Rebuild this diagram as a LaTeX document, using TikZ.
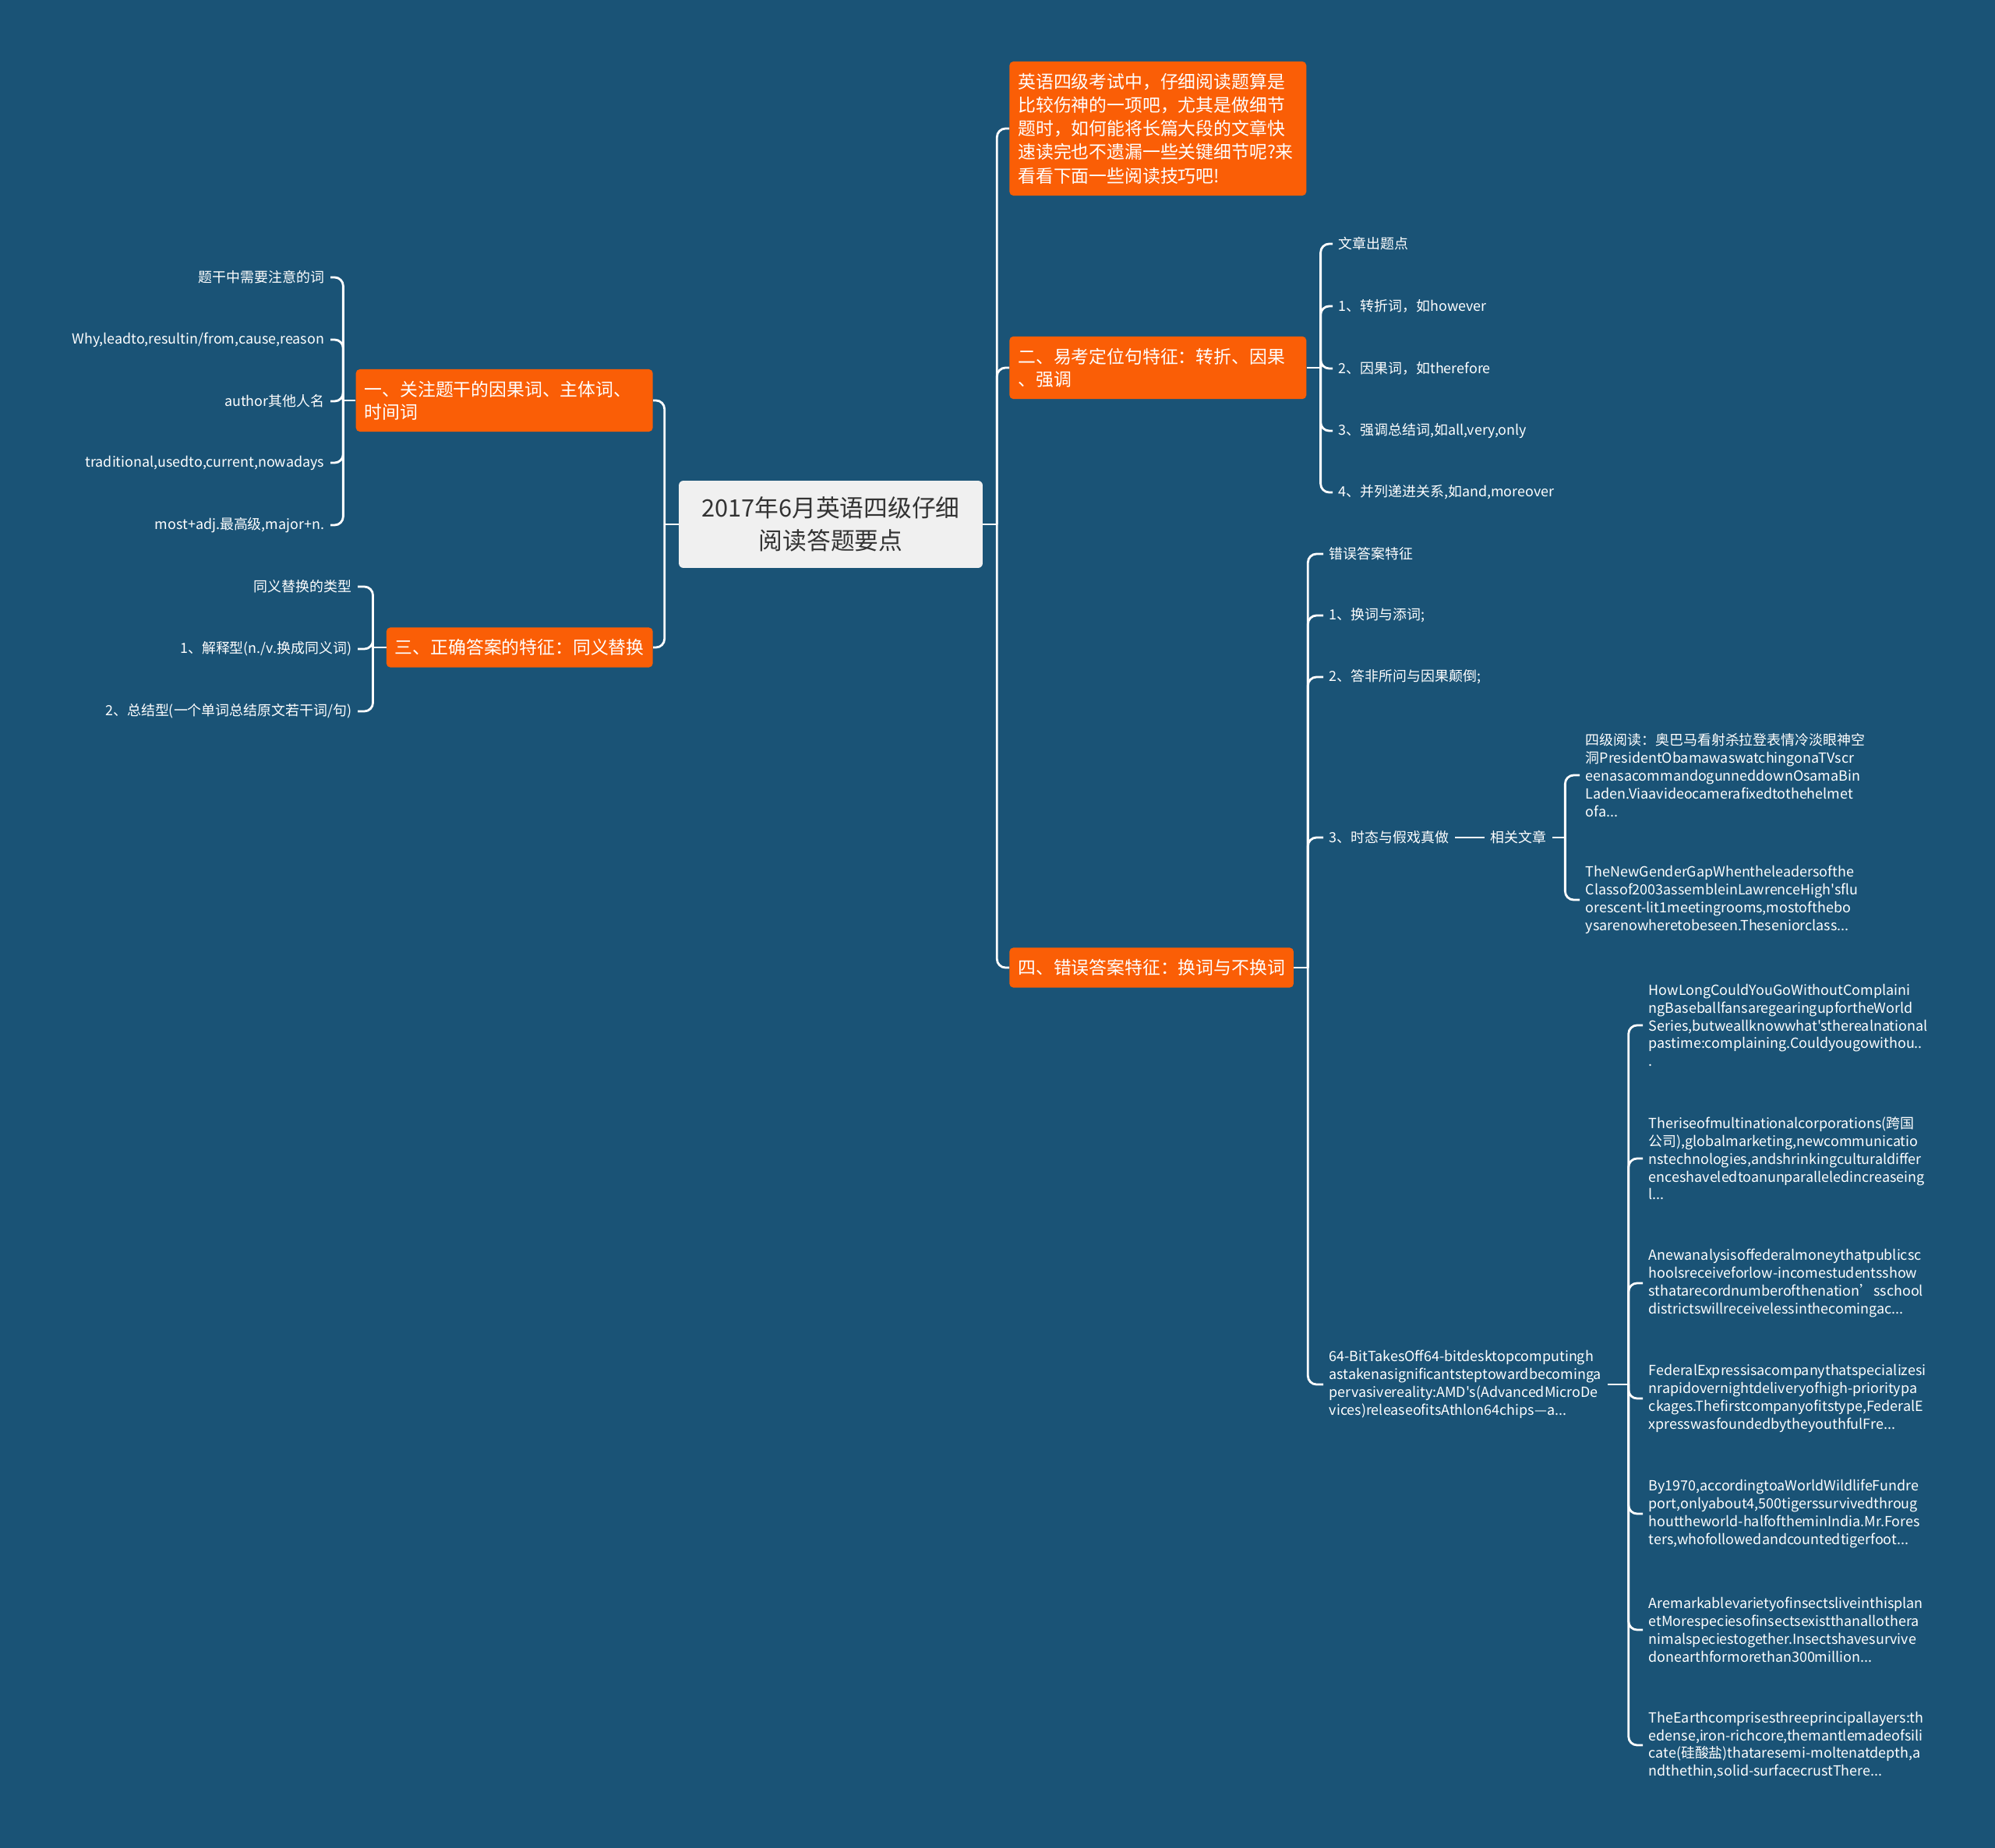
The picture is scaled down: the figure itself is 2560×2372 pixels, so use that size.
\documentclass[tikz,border=0pt]{standalone}
\usepackage{fontspec}
\setmainfont{Noto Sans CJK SC}[Ligatures=TeXOff]
\usepackage{xcolor}
\usetikzlibrary{positioning, calc}

\definecolor{bgblue}{RGB}{26,83,118}
\definecolor{topicorange}{RGB}{250,94,6}
\definecolor{rootgray}{RGB}{240,240,240}
\definecolor{roottext}{RGB}{51,51,51}

\begin{document}
\begin{tikzpicture}[x=0.02cm, y=-0.02cm,
    root/.style={fill=rootgray, text=roottext, rounded corners=0.12cm, align=center,
      minimum width=7.8cm, minimum height=2.24cm, font=\fontsize{17.5}{24}\selectfont},
    topic/.style={fill=topicorange, text=white, rounded corners=0.1cm, inner xsep=0.22cm,
      inner ysep=0.3cm, align=left, font=\fontsize{13}{16.5}\selectfont},
    leaf/.style={text=white, inner xsep=0.15cm, inner ysep=2pt, align=left,
      font=\fontsize{10.2}{13}\selectfont},
    link/.style={draw=white, line width=1.6pt, rounded corners=0.22cm}]

  % background
  \fill[bgblue] (0,0) rectangle (2560,2372);
  \useasboundingbox (0,0) rectangle (2560,2372);

  % root
  \node[root] (root) at (1066,673) {2017年6月英语四级仔细\\阅读答题要点};

  % left topics
  \node[topic, text width=7.18cm, anchor=east] (t1) at (838,514) {一、关注题干的因果词、主体词、\\时间词};
  \node[topic, anchor=east] (t3) at (838,831) {三、正确答案的特征：同义替换};

  % right topics
  \node[topic, text width=7.18cm, anchor=west, font=\fontsize{13}{17.2}\selectfont] (t0) at (1295,165)
    {英语四级考试中，仔细阅读题算是\\比较伤神的一项吧，尤其是做细节\\题时，如何能将长篇大段的文章快\\速读完也不遗漏一些关键细节呢?来\\看看下面一些阅读技巧吧!};
  \node[topic, text width=7.18cm, anchor=west] (t2) at (1295,472) {二、易考定位句特征：转折、因果\\、强调};
  \node[topic, anchor=west] (t4) at (1295,1242) {四、错误答案特征：换词与不换词};

  % trunk
  \draw[link] (root.west) -- ++(-18,0) coordinate (rl);
  \draw[link] (root.east) -- ++(18,0) coordinate (rr);
  \foreach \t in {t1,t3} \draw[link] (rl) |- (\t.east);
  \foreach \t in {t0,t2,t4} \draw[link] (rr) |- (\t.west);

  % leaves of t1
  \draw[link] (t1.west) -- ++(-16,0) coordinate (t1j);
  \foreach \y/\txt [count=\i] in {356/{题干中需要注意的词}, 436/{Why,leadto,resultin/from,cause,reason},
      515/{author其他人名}, 594/{traditional,usedto,current,nowadays}, 674/{most+adj.最高级,major+n.}} {
    \node[leaf, anchor=east] (a\i) at (424,\y) {\txt};
    \draw[link] (t1j) |- (a\i.east);
  }

  % leaves of t3
  \draw[link] (t3.west) -- ++(-17,0) coordinate (t3j);
  \foreach \y/\txt [count=\i] in {753/{同义替换的类型}, 833/{1、解释型(n./v.换成同义词)},
      913/{2、总结型(一个单词总结原文若干词/句)}} {
    \node[leaf, anchor=east] (b\i) at (459,\y) {\txt};
    \draw[link] (t3j) |- (b\i.east);
  }

  % leaves of t2
  \draw[link] (t2.east) -- ++(18,0) coordinate (t2j);
  \foreach \y/\txt [count=\i] in {313/{文章出题点}, 393/{1、转折词，如however}, 473/{2、因果词，如therefore},
      553/{3、强调总结词,如all,very,only}, 632/{4、并列递进关系,如and,moreover}} {
    \node[leaf, anchor=west] (d\i) at (1710,\y) {\txt};
    \draw[link] (t2j) |- (d\i.west);
  }

  % leaves of t4
  \draw[link] (t4.east) -- ++(18,0) coordinate (t4j);
  \foreach \y/\txt [count=\i] in {711/{错误答案特征}, 790/{1、换词与添词;}, 869/{2、答非所问与因果颠倒;},
      1075/{3、时态与假戏真做},
      1777/{64-BitTakesOff64-bitdesktopcomputingh\\astakenasignificantsteptowardbecominga\\pervasivereality:AMD's(AdvancedMicroDe\\vices)releaseofitsAthlon64chips—a...}} {
    \node[leaf, anchor=west] (c\i) at (1698,\y) {\txt};
    \draw[link] (t4j) |- (c\i.west);
  }

  % related articles
  \node[leaf, anchor=west] (rel) at (1905,1075) {相关文章};
  \draw[link] (c4.east) -- (rel.west);
  \draw[link] (rel.east) -- ++(16,0) coordinate (relj);
  \foreach \y/\txt [count=\i] in {
      995/{四级阅读：奥巴马看射杀拉登表情冷淡眼神空\\洞PresidentObamawaswatchingonaTVscr\\eenasacommandogunneddownOsamaBin\\Laden.Viaavideocamerafixedtothehelmet\\ofa...},
      1155/{TheNewGenderGapWhentheleadersofthe\\Classof2003assembleinLawrenceHigh'sflu\\orescent-lit1meetingrooms,mostofthebo\\ysarenowheretobeseen.Theseniorclass...}} {
    \node[leaf, anchor=west] (p\i) at (2027,\y) {\txt};
    \draw[link] (relj) |- (p\i.west);
  }

  % articles under 64-bit
  \draw[link] (c5.east) -- ++(27,0) coordinate (c5j);
  \foreach \y/\txt [count=\i] in {
      1316/{HowLongCouldYouGoWithoutComplaini\\ngBaseballfansaregearingupfortheWorld\\Series,butweallknowwhat'stherealnational\\pastime:complaining.Couldyougowithou..\\.},
      1487/{Theriseofmultinationalcorporations(跨国\\公司),globalmarketing,newcommunicatio\\nstechnologies,andshrinkingculturaldiffer\\enceshaveledtoanunparalleledincreaseing\\l...},
      1647/{Anewanalysisoffederalmoneythatpublicsc\\hoolsreceiveforlow-incomestudentsshow\\sthatarecordnumberofthenation’sschool\\districtswillreceivelessinthecomingac...},
      1795/{FederalExpressisacompanythatspecializesi\\nrapidovernightdeliveryofhigh-prioritypa\\ckages.Thefirstcompanyofitstype,FederalE\\xpresswasfoundedbytheyouthfulFre...},
      1943/{By1970,accordingtoaWorldWildlifeFundre\\port,onlyabout4,500tigerssurvivedthroug\\houttheworld-halfoftheminIndia.Mr.Fores\\ters,whofollowedandcountedtigerfoot...},
      2092/{Aremarkablevarietyofinsectsliveinthisplan\\etMorespeciesofinsectsexistthanallothera\\nimalspeciestogether.Insectshavesurvive\\donearthformorethan300million...},
      2240/{TheEarthcomprisesthreeprincipallayers:th\\edense,iron-richcore,themantlemadeofsili\\cate(硅酸盐)thataresemi-moltenatdepth,a\\ndthethin,solid-surfacecrustThere...}} {
    \node[leaf, anchor=west] (q\i) at (2108,\y) {\txt};
    \draw[link] (c5j) |- (q\i.west);
  }
\end{tikzpicture}
\end{document}
